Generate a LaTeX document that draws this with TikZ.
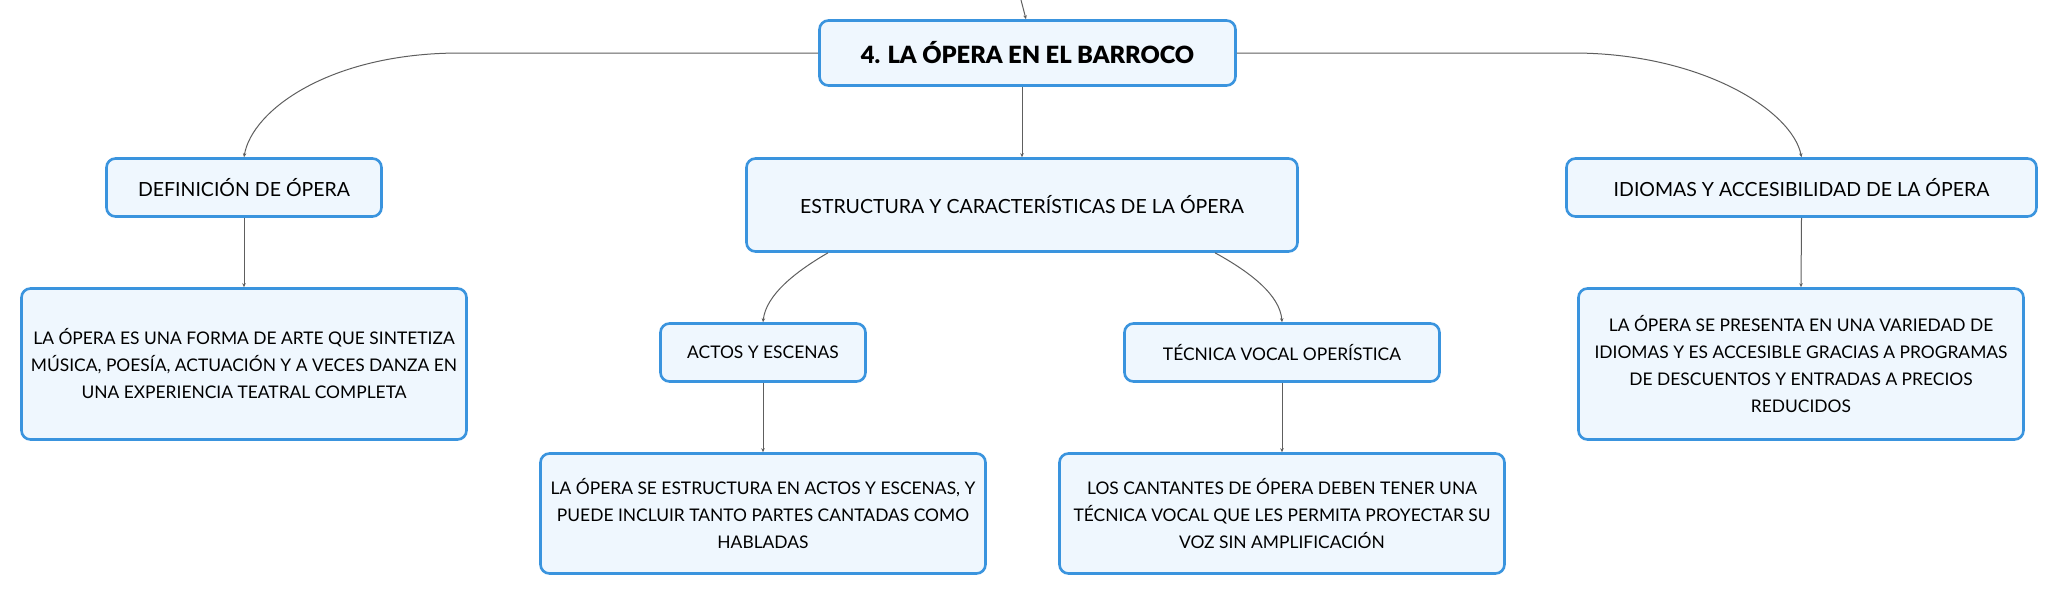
\documentclass[tikz,border=0pt]{standalone}
\usepackage{fontspec}
\setmainfont{Lato}
\newfontfamily\titlefont{Lato Black}
\usetikzlibrary{arrows.meta}
\definecolor{boxborder}{HTML}{3A94DE}
\definecolor{boxfill}{HTML}{EFF7FE}
\definecolor{connc}{HTML}{5E5E5E}
\tikzset{
  topic/.style={draw=boxborder, line width=2.6pt, fill=boxfill, rounded corners=9pt,
    align=center, inner sep=0pt, text=black, font=\fontsize{19.5}{27}\selectfont},
  textbox/.style={topic, font=\fontsize{17.4}{27}\selectfont},
  titlebox/.style={topic, font=\titlefont\fontsize{23.7}{26}\selectfont},
  conn/.style={draw=connc, line width=1pt, -{Stealth[length=4pt,width=3.5pt]}},
}
\begin{document}
\begin{tikzpicture}[x=1pt,y=-1pt]
\useasboundingbox (0,0) rectangle (2057,595);
% nodes
\node[titlebox, minimum width=416, minimum height=65] (title) at (1027.5,53) {4. LA ÓPERA EN EL BARROCO};
\node[topic, minimum width=275, minimum height=58] (def) at (244,187.5) {DEFINICIÓN DE ÓPERA};
\node[topic, minimum width=551, minimum height=93] (est) at (1022,205) {ESTRUCTURA Y CARACTERÍSTICAS DE LA ÓPERA};
\node[topic, minimum width=470, minimum height=58] (idi) at (1801.5,187.5) {IDIOMAS Y ACCESIBILIDAD DE LA ÓPERA};
\node[textbox, minimum width=445, minimum height=151] (deft) at (244,364) {LA ÓPERA ES UNA FORMA DE ARTE QUE SINTETIZA\\MÚSICA, POESÍA, ACTUACIÓN Y A VECES DANZA EN\\UNA EXPERIENCIA TEATRAL COMPLETA};
\node[textbox, minimum width=445, minimum height=151] (idit) at (1801,364) {LA ÓPERA SE PRESENTA EN UNA VARIEDAD DE\\IDIOMAS Y ES ACCESIBLE GRACIAS A PROGRAMAS\\DE DESCUENTOS Y ENTRADAS A PRECIOS\\REDUCIDOS};
\node[topic, minimum width=205, minimum height=58, font=\fontsize{17.4}{27}\selectfont] (act) at (763,352.5) {ACTOS Y ESCENAS};
\node[topic, minimum width=315, minimum height=58, font=\fontsize{17.4}{27}\selectfont] (tec) at (1282,352.5) {TÉCNICA VOCAL OPERÍSTICA};
\node[textbox, minimum width=445, minimum height=120] (actt) at (763,513.5) {LA ÓPERA SE ESTRUCTURA EN ACTOS Y ESCENAS, Y\\PUEDE INCLUIR TANTO PARTES CANTADAS COMO\\HABLADAS};
\node[textbox, minimum width=445, minimum height=120] (tect) at (1282,513.5) {LOS CANTANTES DE ÓPERA DEBEN TENER UNA\\TÉCNICA VOCAL QUE LES PERMITA PROYECTAR SU\\VOZ SIN AMPLIFICACIÓN};
% coordinates
\coordinate (top) at (1021,0);
\coordinate (lbend) at (460,53);
\coordinate (rbend) at (1573,53);
% connectors
\draw[conn] (top) -- ([xshift=-1.5pt]title.north);
\draw[conn] (title.west) -- (lbend) .. controls (330,53) and (252,110) .. (def.north);
\draw[conn] (title.east) -- (rbend) .. controls (1700,53) and (1792,110) .. (idi.north);
\draw[conn] (est.north |- title.south) -- (est.north);
\draw[conn] (def.south) -- (deft.north);
\draw[conn] (idi.south) -- (idit.north);
\draw[conn] ([xshift=-194pt]est.south) .. controls (795,272) and (766,295) .. (act.north);
\draw[conn] ([xshift=193pt]est.south) .. controls (1250,272) and (1280,295) .. (tec.north);
\draw[conn] (act.south) -- (actt.north);
\draw[conn] (tec.south) -- (tect.north);
\end{tikzpicture}
\end{document}
